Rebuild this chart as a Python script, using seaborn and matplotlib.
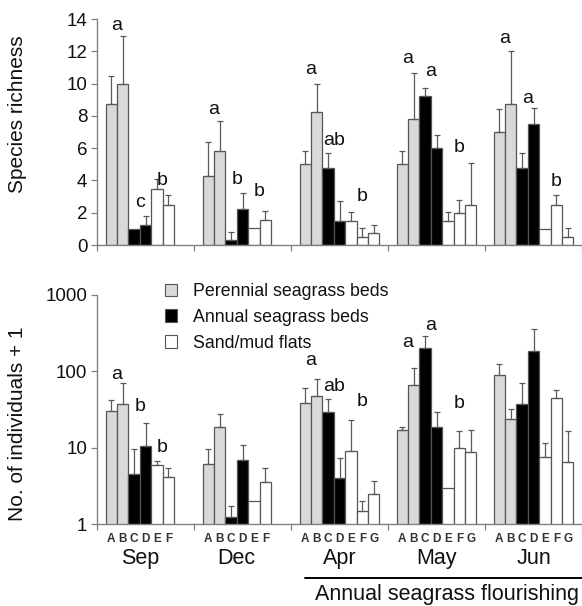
import numpy as np
import pandas as pd
import matplotlib
matplotlib.use("Agg")
import matplotlib.pyplot as plt
import matplotlib.transforms as mtransforms
from matplotlib.patches import Patch
import seaborn as sns

# ---------------- data ----------------
months = ["Sep", "Dec", "Apr", "May", "Jun"]
site_codes = ["A", "B", "C", "D", "E", "F", "G"]
habitats = ["Perennial seagrass beds", "Annual seagrass beds", "Sand/mud flats"]
site_habitat = [0, 0, 1, 1, 2, 2, 2]
n_sites = [6, 6, 7, 7, 7]

# Species richness (mean, SE)
rich_sep = [8.75, 10.0, 1.0, 1.25, 3.5, 2.5]
rich_dec = [4.3, 5.8, 0.3, 2.25, 1.05, 1.55]
rich_apr = [5.0, 8.25, 4.75, 1.5, 1.5, 0.5, 0.75]
rich_may = [5.0, 7.8, 9.25, 6.0, 1.5, 2.0, 2.5]
rich_jun = [7.0, 8.75, 4.75, 7.5, 1.0, 2.5, 0.5]
rich_se_sep = [1.72, 2.95, 0.0, 0.55, 0.6, 0.6]
rich_se_dec = [2.05, 1.9, 0.52, 0.97, 0.0, 0.53]
rich_se_apr = [0.8, 1.75, 0.95, 1.25, 0.55, 0.55, 0.5]
rich_se_may = [0.8, 2.87, 0.5, 0.82, 0.53, 0.8, 2.6]
rich_se_jun = [1.4, 3.25, 0.97, 0.97, 0.0, 0.6, 0.55]

# No. of individuals + 1 (mean, SE)
abun_sep = [30, 38, 4.6, 10.5, 5.9, 4.2]
abun_dec = [6.2, 19, 1.23, 6.9, 2.0, 3.6]
abun_apr = [39, 48, 29.5, 4.0, 9.2, 1.48, 2.5]
abun_may = [17, 66, 200, 19, 3.0, 9.9, 8.7]
abun_jun = [90, 24, 38, 183, 7.6, 45, 6.5]
abun_se_sep = [12, 32, 5.0, 10.5, 0.8, 1.2]
abun_se_dec = [3.5, 9, 0.51, 4.0, 0.0, 1.8]
abun_se_apr = [22, 32, 13.5, 3.4, 13.8, 0.56, 1.2]
abun_se_may = [2, 44, 90, 10.5, 0.0, 6.7, 8.6]
abun_se_jun = [34, 8, 33, 173, 4.1, 12, 10.1]

# significance letters per habitat (perennial, annual, sand) and their heights
rich_letters = [["a", "c", "b"], ["a", "b", "b"], ["a", "ab", "b"], ["a", "a", "b"], ["a", "a", "b"]]
rich_letter_y = [[13.6, 2.66, 4.0], [8.4, 4.05, 3.3], [10.85, 6.5, 3.0], [11.57, 10.74, 6.04], [12.8, 9.05, 3.94]]
abun_letters = [["a", "b", "b"], ["", "", ""], ["a", "ab", "b"], ["a", "a", "b"], ["", "", ""]]
abun_letter_y = [[90, 35, 10.1], [1, 1, 1], [137, 63, 40], [240, 398, 38], [1, 1, 1]]

period_label = "Annual seagrass flourishing"

# ---------------- table ----------------
rich_all = [rich_sep, rich_dec, rich_apr, rich_may, rich_jun]
rich_se_all = [rich_se_sep, rich_se_dec, rich_se_apr, rich_se_may, rich_se_jun]
abun_all = [abun_sep, abun_dec, abun_apr, abun_may, abun_jun]
abun_se_all = [abun_se_sep, abun_se_dec, abun_se_apr, abun_se_may, abun_se_jun]

GROUP = 8.5
MARGIN = (GROUP - 7) / 2

rows = []
for g, m in enumerate(months):
    for i in range(n_sites[g]):
        rows.append(dict(month=m, g=g, site=site_codes[i], i=i,
                         x=g * GROUP + MARGIN + 0.5 + i,
                         habitat=habitats[site_habitat[i]],
                         rich=rich_all[g][i], rich_se=rich_se_all[g][i],
                         abun=abun_all[g][i], abun_se=abun_se_all[g][i]))
df = pd.DataFrame(rows)

# ---------------- style ----------------
sns.set_style("ticks")
plt.rcParams["font.family"] = ["Liberation Sans", "DejaVu Sans"]
palette = {habitats[0]: "#d9d9d9", habitats[1]: "#000000", habitats[2]: "#ffffff"}
edge = "#555555"
axis_col = "#808080"
txt_col = "#111111"

fig = plt.figure(figsize=(5.82, 6.06), dpi=100)
ax1 = fig.add_axes([97 / 582, 1 - 245 / 606, 485 / 582, 226 / 606])
ax2 = fig.add_axes([97 / 582, 1 - 524.3 / 606, 485 / 582, 229.3 / 606])
ax2.set_yscale("log")

for ax, col, secol in [(ax1, "rich", "rich_se"), (ax2, "abun", "abun_se")]:
    sns.barplot(data=df, x="x", y=col, hue="habitat", hue_order=habitats,
                palette=palette, native_scale=True, width=1.0, dodge=False,
                errorbar=None, edgecolor=edge, linewidth=0.9, legend=False, ax=ax)
    sub = df[df[secol] > 0]
    ax.errorbar(sub["x"], sub[col], yerr=np.vstack([np.zeros(len(sub)), sub[secol]]),
                fmt="none", ecolor="#5a5a5a", elinewidth=0.9, capsize=2.0,
                capthick=0.9, zorder=3)
    ax.set_xlim(0, 5 * GROUP)
    ax.set_xticks([g * GROUP for g in range(6)])
    ax.set_xticklabels([])
    ax.set_xlabel("")
    for s in ["top", "right"]:
        ax.spines[s].set_visible(False)
    for s in ["left", "bottom"]:
        ax.spines[s].set_color(axis_col)
        ax.spines[s].set_linewidth(1.0)
    ax.tick_params(axis="both", which="major", direction="out", length=4,
                   width=0.9, color=axis_col, labelcolor=txt_col, labelsize=13.5, pad=3)

# top panel axes
ax1.set_ylim(0, 14)
ax1.set_yticks(np.arange(0, 15, 2))
ax1.set_ylabel("Species richness", fontsize=15, color=txt_col)
ax1.yaxis.set_label_coords(-0.145, 0.58)

# bottom panel axes
ax2.set_ylim(1, 1000)
ax2.set_yticks([1, 10, 100, 1000])
ax2.set_yticklabels(["1", "10", "100", "1000"])
ax2.yaxis.set_minor_locator(matplotlib.ticker.NullLocator())
ax2.set_ylabel("No. of individuals + 1", fontsize=15, color=txt_col)
ax2.yaxis.set_label_coords(-0.145, 0.44)

# site letters as minor ticks
ax2.set_xticks(df["x"], minor=True)
ax2.set_xticklabels(df["site"], minor=True)
ax2.tick_params(axis="x", which="minor", length=0, pad=6, labelsize=8.5,
                labelcolor="#333333")
for lab in ax2.get_xticklabels(minor=True):
    lab.set_fontweight("bold")

# month labels
for g, m in enumerate(months):
    cx = df.loc[df.g == g, "x"].mean()
    ax2.annotate(m, xy=(cx, 0), xycoords=("data", "axes fraction"),
                 xytext=(0, -24.5), textcoords="offset points",
                 ha="center", va="center", fontsize=15.5, color=txt_col)

# period line and label
x0 = 2 * GROUP + 1.2
trans = mtransforms.blended_transform_factory(ax2.transData, ax2.transAxes)
ax2.plot([x0, 5 * GROUP], [-54 / 229.3, -54 / 229.3], color="black", lw=1.4,
         transform=trans, clip_on=False)
ax2.annotate(period_label, xy=((x0 + 5 * GROUP) / 2 + 0.3, 0), xycoords=("data", "axes fraction"),
             xytext=(0, -50.5), textcoords="offset points",
             ha="center", va="center", fontsize=15.5, color=txt_col)

# significance letters
def pair_center(g, h):
    xs = df.loc[(df.g == g) & (df.habitat == habitats[h]), "x"]
    return xs.mean()

for ax, letters, ys in [(ax1, rich_letters, rich_letter_y), (ax2, abun_letters, abun_letter_y)]:
    for g in range(5):
        for h in range(3):
            if letters[g][h]:
                ax.text(pair_center(g, h), ys[g][h], letters[g][h], ha="center",
                        va="center", fontsize=14, color=txt_col)

# legend
handles = [Patch(facecolor=palette[h], edgecolor=edge, linewidth=0.8) for h in habitats]
ax2.legend(handles, habitats, loc="upper left", bbox_to_anchor=(165 / 582, 1 - 283 / 606),
           bbox_transform=fig.transFigure, frameon=False, fontsize=12.8,
           handlelength=0.7, handleheight=0.7, handletextpad=0.85,
           labelspacing=0.5, borderpad=0, borderaxespad=0, labelcolor=txt_col)

fig.savefig("out.png", dpi=100)
